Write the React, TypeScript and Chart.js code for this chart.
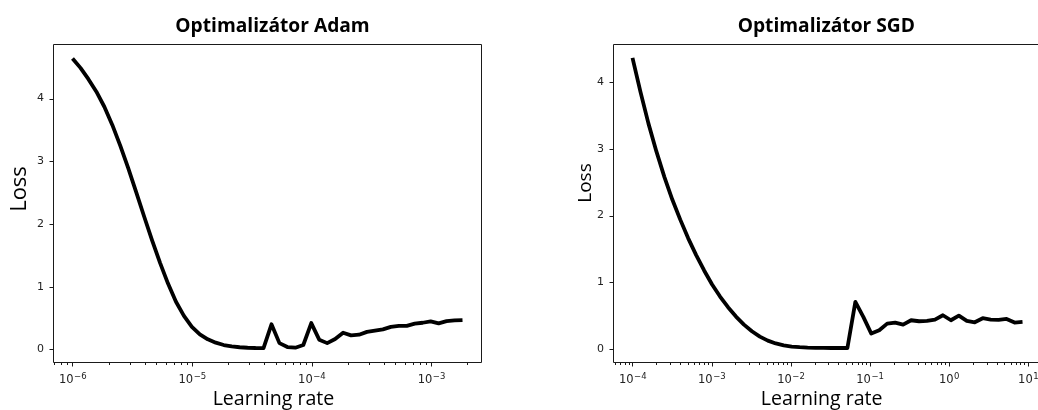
import React, { useEffect, useRef } from "react";
import { Chart, registerables } from "chart.js";

Chart.register(...registerables);

// ---------- data ----------
const adamLearningRate = [
  1.0e-6, 1.166e-6, 1.359e-6, 1.584e-6, 1.846e-6, 2.152e-6, 2.508e-6, 2.924e-6, 3.408e-6, 3.972e-6,
  4.63e-6, 5.397e-6, 6.29e-6, 7.332e-6, 8.546e-6, 9.961e-6, 1.161e-5, 1.353e-5, 1.577e-5, 1.839e-5,
  2.143e-5, 2.498e-5, 2.912e-5, 3.394e-5, 3.956e-5, 4.611e-5, 5.375e-5, 6.265e-5, 7.302e-5, 8.511e-5,
  9.92e-5, 1.156e-4, 1.348e-4, 1.571e-4, 1.831e-4, 2.134e-4, 2.488e-4, 2.9e-4, 3.38e-4, 3.94e-4,
  4.592e-4, 5.352e-4, 6.239e-4, 7.272e-4, 8.476e-4, 9.88e-4, 1.152e-3, 1.342e-3, 1.565e-3, 1.824e-3,
];
const adamLoss = [
  4.64, 4.49, 4.31, 4.11, 3.87, 3.58, 3.25, 2.89, 2.51, 2.12,
  1.74, 1.38, 1.05, 0.76, 0.535, 0.36, 0.24, 0.16, 0.107, 0.07,
  0.047, 0.034, 0.026, 0.022, 0.021, 0.4, 0.1, 0.037, 0.027, 0.07,
  0.42, 0.155, 0.1, 0.165, 0.266, 0.223, 0.234, 0.28, 0.3, 0.32,
  0.36, 0.375, 0.375, 0.41, 0.425, 0.447, 0.415, 0.45, 0.462, 0.467,
];

const sgdLearningRate = [
  1.0e-4, 1.261e-4, 1.589e-4, 2.004e-4, 2.526e-4, 3.184e-4, 4.014e-4, 5.061e-4, 6.38e-4, 8.043e-4,
  1.014e-3, 1.278e-3, 1.612e-3, 2.032e-3, 2.561e-3, 3.228e-3, 4.07e-3, 5.131e-3, 6.468e-3, 8.154e-3,
  1.028e-2, 1.296e-2, 1.634e-2, 2.059e-2, 2.596e-2, 3.273e-2, 4.126e-2, 5.201e-2, 6.557e-2, 8.266e-2,
  0.1042, 0.1314, 0.1656, 0.2088, 0.2632, 0.3319, 0.4183, 0.5274, 0.6648, 0.8381,
  1.0568, 1.3321, 1.6794, 2.117, 2.669, 3.365, 4.2417, 5.347, 6.741, 8.497,
];
const sgdLoss = [
  4.36, 3.85, 3.38, 2.96, 2.58, 2.24, 1.94, 1.66, 1.41, 1.18,
  0.97, 0.79, 0.63, 0.49, 0.37, 0.27, 0.19, 0.13, 0.088, 0.06,
  0.042, 0.032, 0.026, 0.023, 0.021, 0.02, 0.02, 0.02, 0.71, 0.485,
  0.235, 0.285, 0.385, 0.4, 0.37, 0.435, 0.42, 0.425, 0.445, 0.51,
  0.435, 0.505, 0.425, 0.405, 0.465, 0.445, 0.44, 0.455, 0.4, 0.41,
];

const adamMajorTicks = [1e-6, 1e-5, 1e-4, 1e-3];
const sgdMajorTicks = [1e-4, 1e-3, 1e-2, 1e-1, 1e0, 1e1];
const lossTicks = [0, 1, 2, 3, 4];

const adamXRange = [6.87e-7, 2.655e-3];
const adamYRange = [-0.209, 4.871];
const sgdXRange = [5.67e-5, 14.98];
const sgdYRange = [-0.197, 4.567];

const chartTitles = ["Optimalizátor Adam", "Optimalizátor SGD"];
const xAxisTitle = "Learning rate";
const yAxisTitle = "Loss";

// ---------- helpers ----------
const logTickList = (majors: number[], min: number, max: number) => {
  const out: { value: number; major: boolean }[] = [];
  const all = [majors[0] / 10, ...majors];
  all.forEach((m, idx) => {
    for (let k = 1; k <= 9; k++) {
      const v = m * k;
      if (v >= min && v <= max) out.push({ value: v, major: k === 1 && idx > 0 });
    }
  });
  return out;
};

const TICK_FONT = "'DejaVu Sans', sans-serif";
const LABEL_FONT = "'Open Sans', sans-serif";

const mplAxesPlugin = {
  id: "mplAxes",
  afterDraw(chart: any, _args: any, opts: any) {
    const { ctx, chartArea: a, scales } = chart;
    const xs = scales.x;
    const ys = scales.y;
    ctx.save();
    // frame + tick marks
    ctx.strokeStyle = "#1a1a1a";
    ctx.lineWidth = 1;
    ctx.beginPath();
    const L = Math.floor(a.left) + 0.5;
    const R = Math.ceil(a.right) - 0.5;
    const T = Math.floor(a.top) + 0.5;
    const B = Math.floor(a.bottom) + 0.5;
    ctx.moveTo(L, T); ctx.lineTo(R, T); ctx.lineTo(R, B); ctx.lineTo(L, B); ctx.closePath();
    xs.ticks.forEach((t: any) => {
      const px = Math.round(xs.getPixelForValue(t.value)) + 0.5;
      const len = t.major ? 4 : 2.5;
      ctx.moveTo(px, B); ctx.lineTo(px, B + len);
    });
    ys.ticks.forEach((t: any) => {
      const py = Math.round(ys.getPixelForValue(t.value)) + 0.5;
      ctx.moveTo(L - 4, py); ctx.lineTo(L, py);
    });
    ctx.stroke();

    // x tick labels: 10 with raised exponent (mathtext style)
    ctx.fillStyle = "#222";
    ctx.textBaseline = "alphabetic";
    ctx.textAlign = "left";
    const baseY = a.bottom + 20.5;
    const baseFont = "11.5px " + TICK_FONT;
    const supFont = "8.5px " + TICK_FONT;
    xs.ticks.forEach((t: any) => {
      if (!t.major) return;
      const px = xs.getPixelForValue(t.value);
      const e = Math.round(Math.log10(t.value));
      const expStr = e < 0 ? "\u2212" + Math.abs(e) : String(e);
      ctx.font = baseFont;
      const wb = ctx.measureText("10").width;
      ctx.font = supFont;
      const we = ctx.measureText(expStr).width;
      const x0 = px - (wb + we) / 2;
      ctx.font = baseFont;
      ctx.fillText("10", x0, baseY);
      ctx.font = supFont;
      ctx.fillText(expStr, x0 + wb + 0.5, baseY - 4.2);
    });

    // chart title and axis labels
    ctx.fillStyle = "#000";
    if (opts && opts.title) {
      const tl = opts.title;
      ctx.font = "bold " + tl.size + "px " + LABEL_FONT;
      ctx.textAlign = "center";
      ctx.textBaseline = "alphabetic";
      ctx.fillText(tl.text, tl.x, tl.y);
    }
    if (opts && opts.xLabel) {
      const xl = opts.xLabel;
      ctx.font = xl.size + "px " + LABEL_FONT;
      ctx.textAlign = "center";
      ctx.textBaseline = "middle";
      ctx.fillText(xl.text, xl.x, xl.y);
    }
    if (opts && opts.yLabel) {
      const yl = opts.yLabel;
      ctx.translate(yl.x, yl.y);
      ctx.rotate(-Math.PI / 2);
      ctx.font = yl.size + "px " + LABEL_FONT;
      ctx.textAlign = "center";
      ctx.textBaseline = "alphabetic";
      ctx.fillText(yl.text, 0, 0);
    }
    ctx.restore();
  },
};

type Label = { text: string; x: number; y: number; size: number };
type Cfg = {
  lr: number[];
  loss: number[];
  majors: number[];
  xRange: number[];
  yRange: number[];
  yWidth: number;
  padRight: number;
  title: Label;
  xLabel: Label;
  yLabel: Label;
};

function makeChart(canvas: HTMLCanvasElement, c: Cfg) {
  const tickList = logTickList(c.majors, c.xRange[0], c.xRange[1]);
  return new Chart(canvas, {
    type: "line",
    data: {
      datasets: [
        {
          label: c.title.text,
          data: c.lr.map((x, i) => ({ x, y: c.loss[i] })),
          borderColor: "#000",
          borderWidth: 3.8,
          pointRadius: 0,
          tension: 0,
          borderJoinStyle: "round",
          fill: false,
        },
      ],
    },
    options: {
      animation: false,
      responsive: false,
      events: [],
      layout: { padding: { left: 0, right: c.padRight, top: 44, bottom: 0 } },
      plugins: {
        legend: { display: false },
        tooltip: { enabled: false },
        title: { display: false },
        mplAxes: { title: c.title, xLabel: c.xLabel, yLabel: c.yLabel },
      },
      scales: {
        x: {
          type: "logarithmic",
          bounds: "data",
          min: c.xRange[0],
          max: c.xRange[1],
          grid: { display: false, drawTicks: false },
          border: { display: false },
          afterBuildTicks: (s: any) => {
            s.ticks = tickList.map((t) => ({ ...t }));
          },
          afterFit: (s: any) => {
            s.height = 47.5;
          },
          ticks: {
            display: false,
            autoSkip: false,
            maxRotation: 0,
            minRotation: 0,
          },
          title: { display: false },
        },
        y: {
          type: "linear",
          bounds: "data",
          min: c.yRange[0],
          max: c.yRange[1],
          grid: { display: false, drawTicks: false },
          border: { display: false },
          afterBuildTicks: (s: any) => {
            s.ticks = lossTicks.map((v) => ({ value: v }));
          },
          afterFit: (s: any) => {
            s.width = c.yWidth;
          },
          ticks: {
            padding: 9,
            color: "#222",
            font: { family: TICK_FONT, size: 11 },
            callback: (v: any) => String(v),
          },
          title: { display: false },
        },
      },
    } as any,
    plugins: [mplAxesPlugin],
  });
}

export default function App() {
  const leftRef = useRef<HTMLCanvasElement | null>(null);
  const rightRef = useRef<HTMLCanvasElement | null>(null);

  useEffect(() => {
    const charts: Chart[] = [];
    if (leftRef.current) {
      charts.push(
        makeChart(leftRef.current, {
          lr: adamLearningRate,
          loss: adamLoss,
          majors: adamMajorTicks,
          xRange: adamXRange,
          yRange: adamYRange,
          yWidth: 53,
          padRight: 38,
          title: { text: chartTitles[0], x: 272.5, y: 32.3, size: 19.2 },
          xLabel: { text: xAxisTitle, x: 273.5, y: 399.8, size: 19.6 },
          yLabel: { text: yAxisTitle, x: 26, y: 189, size: 22 },
        })
      );
    }
    if (rightRef.current) {
      charts.push(
        makeChart(rightRef.current, {
          lr: sgdLearningRate,
          loss: sgdLoss,
          majors: sgdMajorTicks,
          xRange: sgdXRange,
          yRange: sgdYRange,
          yWidth: 93,
          padRight: 38,
          title: { text: chartTitles[1], x: 306.3, y: 32.3, size: 19.2 },
          xLabel: { text: xAxisTitle, x: 301.7, y: 399.8, size: 19.6 },
          yLabel: { text: yAxisTitle, x: 71, y: 183, size: 19 },
        })
      );
    }
    return () => charts.forEach((ch) => ch.destroy());
  }, []);

  return (
    <div
      style={{
        position: "fixed",
        left: 0,
        top: 0,
        width: 1038,
        height: 410,
        overflow: "hidden",
        background: "#fff",
      }}
    >
      <canvas ref={leftRef} width={520} height={410} style={{ position: "absolute", left: 0, top: 0 }} />
      <canvas ref={rightRef} width={560} height={410} style={{ position: "absolute", left: 520, top: 0 }} />
    </div>
  );
}
